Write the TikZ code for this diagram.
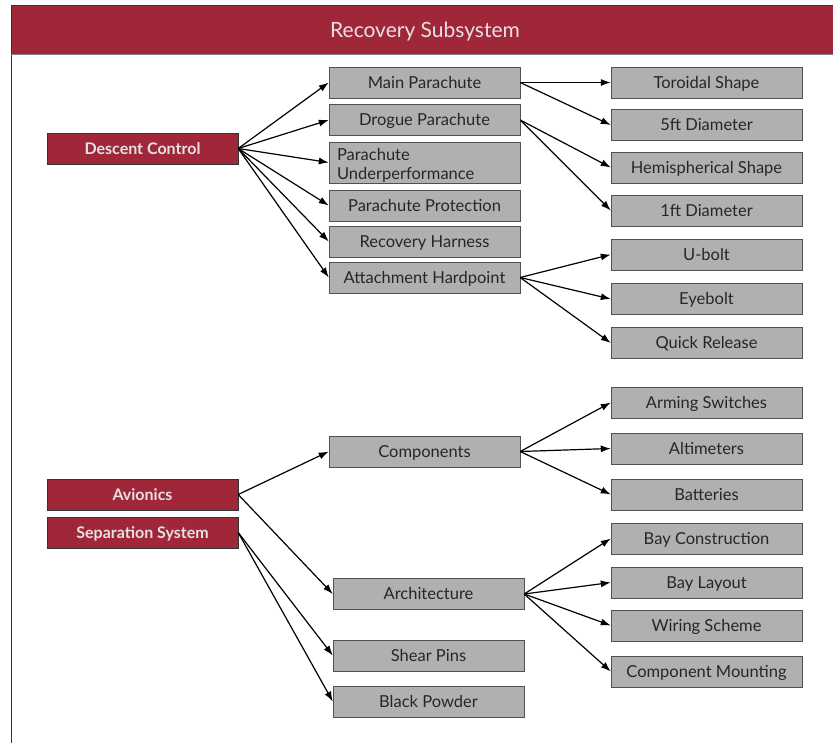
\documentclass[tikz,border=0pt]{standalone}
\usepackage{fontspec}
\setmainfont{Lato}
\definecolor{rocketred}{HTML}{A0263A}
\definecolor{boxgray}{HTML}{B0B0B0}
\definecolor{edgegray}{HTML}{505050}
\definecolor{paletext}{HTML}{E6E2E2}
\usetikzlibrary{arrows.meta, positioning}

\begin{document}
\begin{tikzpicture}[x=1pt, y=-1pt,
		topic/.style={draw=black!80, fill=rocketred, text=paletext, font=\fontsize{16}{19}\selectfont\bfseries,
			minimum width=191pt, minimum height=31pt, inner sep=0pt, text height=14.5pt, text depth=3pt},
		item/.style={draw=edgegray, fill=boxgray, text=black!85, font=\fontsize{16.5}{19}\selectfont,
			minimum width=191pt, minimum height=31pt, inner sep=0pt, text height=14.5pt, text depth=3pt},
		link/.style={black, line width=1.2pt, -{Latex[length=10pt, width=7pt]}}]
	\clip (0,0) rectangle (833,742);
	\useasboundingbox (0,0) rectangle (833,742);
	
	% frame and title bar
	\draw[line width=1pt, black!80] (11,760) -- (11,5) -- (850,5);
	\fill[rocketred] (11.5,5.5) rectangle (850,54);
	\draw[black!50] (11,54) -- (850,54);
	\node[text=paletext, font=\fontsize{21}{24}\selectfont] (title) at (425,31.5) {Recovery Subsystem};
	
	% left column
	\node[topic] (descent) at (142.5,148.5) {Descent Control};
	\node[topic] (avionics) at (142.5,494.5) {Avionics};
	\node[topic] (separation) at (142.5,532.5) {Separation System};
	
	% middle column
	\begin{scope}[xshift=424.5pt]
		\node[item] (main) at (0,82.5) {Main Parachute};
		\node[item] (drogue) at (0,120) {Drogue Parachute};
		\node[item, minimum height=41pt, text width=175pt, align=left, text height=17pt, text depth=22pt] (under) at (0,162.5) {Parachute\\Underperformance};
		\node[item] (protect) at (0,205.5) {Parachute Protection};
		\node[item] (harness) at (0,241.5) {Recovery Harness};
		\node[item] (hardpt) at (0,277.5) {Attachment Hardpoint};
		\node[item] (comps) at (0,451.5) {Components};
	\end{scope}
	\begin{scope}[xshift=428.5pt]
		\node[item] (arch) at (0,594) {Architecture};
		\node[item] (shear) at (0,655.5) {Shear Pins};
		\node[item] (powder) at (0,701.5) {Black Powder};
	\end{scope}
	
	% right column
	\begin{scope}[xshift=706.5pt]
		\node[item] (toroid) at (0,82.5) {Toroidal Shape};
		\node[item] (five) at (0,125) {5ft Diameter};
		\node[item] (hemi) at (0,167.5) {Hemispherical Shape};
		\node[item] (one) at (0,210.5) {1ft Diameter};
		\node[item] (ubolt) at (0,254.5) {U-bolt};
		\node[item] (eyebolt) at (0,299) {Eyebolt};
		\node[item] (quick) at (0,343) {Quick Release};
		\node[item] (arming) at (0,402.5) {Arming Switches};
		\node[item] (alti) at (0,448.5) {Altimeters};
		\node[item] (batt) at (0,494.5) {Batteries};
		\node[item] (baycon) at (0,538.5) {Bay Construction};
		\node[item] (baylay) at (0,582.5) {Bay Layout};
		\node[item] (wiring) at (0,625.5) {Wiring Scheme};
		\node[item] (mount) at (0,671.5) {Component Mounting};
	\end{scope}
	
	% connectors
	\foreach \t in {main, drogue, under, protect, harness, hardpt}
		\draw[link] (descent.east) -- (\t.west);
	\foreach \t in {comps, arch}
		\draw[link] (avionics.east) -- (\t.west);
	\foreach \t in {shear, powder}
		\draw[link] (separation.east) -- (\t.west);
	\foreach \t in {toroid, five}
		\draw[link] (main.east) -- (\t.west);
	\foreach \t in {hemi, one}
		\draw[link] (drogue.east) -- (\t.west);
	\foreach \t in {ubolt, eyebolt, quick}
		\draw[link] (hardpt.east) -- (\t.west);
	\foreach \t in {arming, alti, batt}
		\draw[link] (comps.east) -- (\t.west);
	\foreach \t in {baycon, baylay, wiring, mount}
		\draw[link] (arch.east) -- (\t.west);
	
\end{tikzpicture}
\end{document}
